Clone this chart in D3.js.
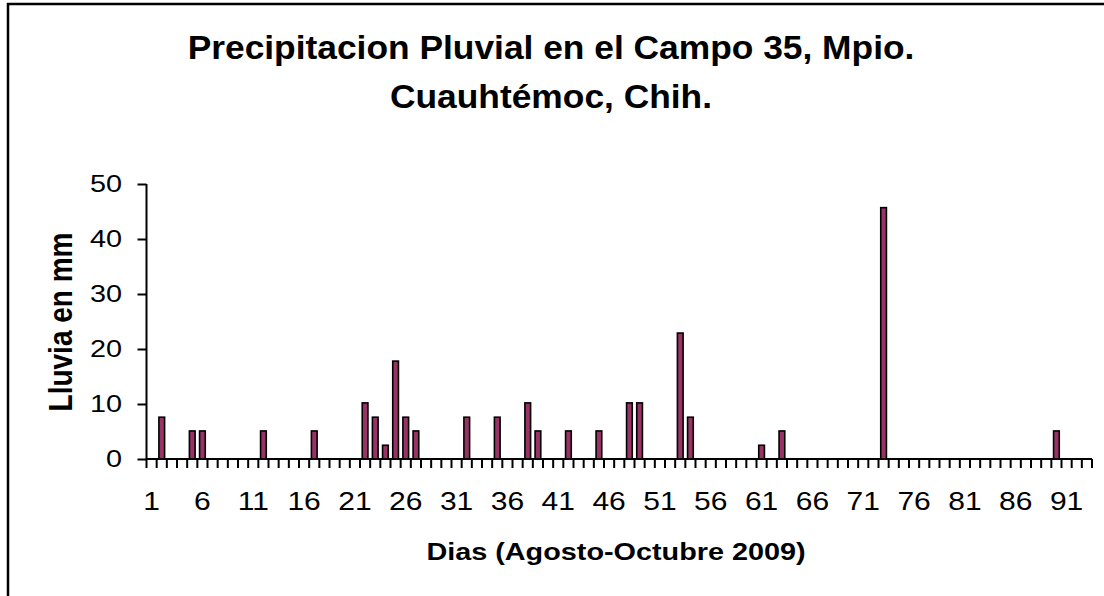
<!DOCTYPE html>
<html>
<head>
<meta charset="utf-8">
<script src="https://cdn.jsdelivr.net/npm/d3@7"></script>
<style>
  body { margin: 0; background: #fff; }
  text { font-family: Arial, "Liberation Sans", sans-serif; fill: #000; }
</style>
</head>
<body>
<svg id="chart" width="1104" height="596"></svg>
<script>
// Dias de agosto a octubre 2009
const dias = d3.range(1, 94);
// Lluvia diaria en mm
const lluvia = [
    0, 7.6, 0, 0, 5.1, 5.1, 0, 0, 0, 0,
    0, 5.1, 0, 0, 0, 0, 5.1, 0, 0, 0,
    0, 10.2, 7.6, 2.5, 17.8, 7.6, 5.1, 0, 0, 0,
    0, 7.6, 0, 0, 7.6, 0, 0, 10.2, 5.1, 0,
    0, 5.1, 0, 0, 5.1, 0, 0, 10.2, 10.2, 0,
    0, 0, 22.9, 7.6, 0, 0, 0, 0, 0, 0,
    2.5, 0, 5.1, 0, 0, 0, 0, 0, 0, 0,
    0, 0, 45.7, 0, 0, 0, 0, 0, 0, 0,
    0, 0, 0, 0, 0, 0, 0, 0, 0, 5.1,
    0, 0, 0
];
const etiquetasX = [1, 6, 11, 16, 21, 26, 31, 36, 41, 46, 51, 56, 61, 66, 71, 76, 81, 86, 91];
const ticksY = [0, 10, 20, 30, 40, 50];
const titulo = ["Precipitacion Pluvial en el Campo 35, Mpio.", "Cuauhtémoc, Chih."];

const data = dias.map((d, i) => ({ dia: d, mm: lluvia[i] }));

// Area del grafico
const plot = { left: 146.5, right: 1092, top: 184, bottom: 459 };
// El texto del original se ve estirado a lo ancho
const estirar = 1.2;

const svg = d3.select("#chart");

// Marco exterior
svg.append("rect")
    .attr("x", 8).attr("y", 4)
    .attr("width", 1200).attr("height", 700)
    .attr("fill", "none")
    .attr("stroke", "#000")
    .attr("stroke-width", 2.5);

// Escalas
const x = d3.scaleBand()
    .domain(dias)
    .range([plot.left, plot.right])
    .padding(0);

const y = d3.scaleLinear()
    .domain([0, 50])
    .range([plot.bottom, plot.top]);

const bw = x.bandwidth();

// Barras
svg.append("g")
    .selectAll("rect")
    .data(data.filter(d => d.mm > 0))
    .enter().append("rect")
    .attr("x", d => x(d.dia) + bw * 0.22)
    .attr("y", d => y(d.mm))
    .attr("width", bw * 0.56)
    .attr("height", d => y(0) - y(d.mm))
    .attr("fill", "#993366")
    .attr("stroke", "#000")
    .attr("stroke-width", 1.6);

// Eje Y
svg.append("g")
    .attr("transform", `translate(${plot.left},0)`)
    .call(d3.axisLeft(y).tickValues(ticksY).tickSize(9).tickPadding(15))
    .call(g => g.select(".domain").attr("stroke-width", 2).attr("d", `M-0,${plot.top}V${plot.bottom}`))
    .call(g => g.selectAll(".tick line").attr("stroke-width", 2))
    .call(g => g.selectAll(".tick text")
        .attr("x", 0)
        .attr("transform", `translate(-24.5,0) scale(${estirar},1)`)
        .attr("font-size", 24)
        .attr("font-family", "Arial, 'Liberation Sans', sans-serif"));

// Eje X: linea base y marcas entre categorias
const ejeX = svg.append("g");
ejeX.append("line")
    .attr("x1", plot.left).attr("x2", plot.right)
    .attr("y1", y(0)).attr("y2", y(0))
    .attr("stroke", "#000").attr("stroke-width", 2);

ejeX.selectAll(".marca")
    .data(dias.concat([null]))
    .enter().append("line")
    .attr("class", "marca")
    .attr("x1", d => d === null ? plot.right : x(d))
    .attr("x2", d => d === null ? plot.right : x(d))
    .attr("y1", y(0)).attr("y2", y(0) + 9)
    .attr("stroke", "#000").attr("stroke-width", 2);

svg.append("g")
    .attr("transform", `translate(0,${y(0)})`)
    .call(d3.axisBottom(x).tickValues(etiquetasX).tickSize(0).tickPadding(33))
    .call(g => g.select(".domain").remove())
    .call(g => g.selectAll(".tick text")
        .attr("transform", `scale(${estirar},1)`)
        .attr("font-size", 25)
        .attr("font-family", "Arial, 'Liberation Sans', sans-serif"));

// Titulo
svg.append("g")
    .attr("transform", "translate(551,0) scale(1.04,1)")
    .append("text")
    .attr("text-anchor", "middle")
    .attr("font-size", 34)
    .attr("font-weight", "bold")
    .selectAll("tspan")
    .data(titulo)
    .enter().append("tspan")
    .attr("x", 0)
    .attr("y", (d, i) => 59 + i * 49)
    .text(d => d);

// Titulos de ejes
svg.append("text")
    .attr("transform", `translate(616,560) scale(${estirar},1)`)
    .attr("text-anchor", "middle")
    .attr("font-size", 24)
    .attr("font-weight", "bold")
    .text("Dias (Agosto-Octubre 2009)");

svg.append("text")
    .attr("transform", `translate(72,322) rotate(-90) scale(1,${estirar})`)
    .attr("text-anchor", "middle")
    .attr("font-size", 28)
    .attr("font-weight", "bold")
    .text("Lluvia en mm");
</script>
</body>
</html>
